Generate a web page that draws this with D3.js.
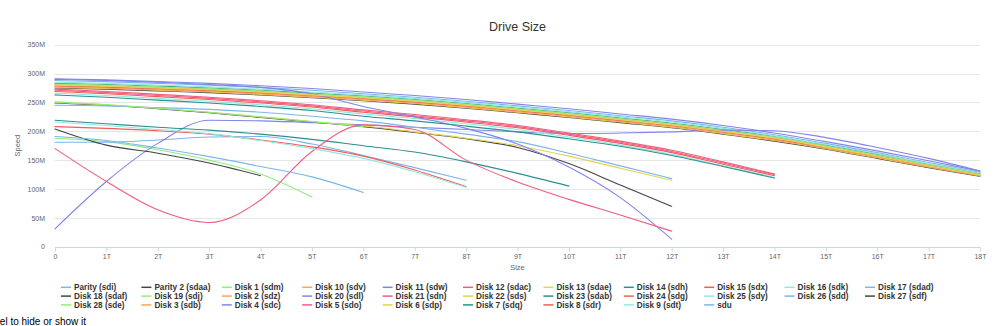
<!DOCTYPE html>
<html>
<head>
<meta charset="utf-8">
<script src="https://cdn.jsdelivr.net/npm/d3@7"></script>
<style>
  body { margin: 0; background: #fff; overflow: hidden; }
  svg { display: block; font-family: "Lucida Grande", "Liberation Sans", Arial, sans-serif; }
</style>
</head>
<body>
<svg id="chart"></svg>
<script>
// x positions (TB) and y ticks (MB/s)
const sizeTicks = [0, 1, 2, 3, 4, 5, 6, 7, 8, 9, 10, 11, 12, 13, 14, 15, 16, 17, 18];
const speedTicks = [0, 50, 100, 150, 200, 250, 300, 350];

// Highcharts default palette
const palette = ['#7cb5ec', '#434348', '#90ed7d', '#f7a35c', '#8085e9',
                 '#f15c80', '#e4d354', '#2b908f', '#f45b5b', '#91e8e1'];

// one array per drive: speed (M) at 0T, 1T, 2T, ...
const parity_sdi  = [288, 286, 283, 280, 276, 271, 265, 259, 252, 244, 236, 227, 218, 207, 194, 179, 163, 146, 129];
const parity2_sdaa = [275, 273, 270, 267, 263, 258, 253, 247, 240, 232, 224, 215, 206, 195, 183, 169, 153, 137, 122];
const disk1_sdm   = [188, 182, 168, 150, 126, 86];
const disk10_sdv  = [281, 279, 276, 273, 269, 264, 259, 253, 246, 238, 230, 221, 212, 201, 189, 174, 158, 141, 125];
const disk11_sdw  = [291, 289, 286, 283, 279, 274, 268, 262, 255, 247, 239, 230, 221, 210, 197, 182, 166, 149, 131];
const disk12_sdac = [271, 267, 262, 257, 251, 244, 235, 227, 218, 208, 195, 181, 165, 145, 125];
const disk13_sdae = [276, 274, 271, 268, 264, 259, 254, 248, 241, 233, 225, 216, 207, 196, 184, 170, 154, 138, 123];
const disk14_sdh  = [283, 281, 278, 275, 271, 266, 261, 255, 248, 240, 232, 223, 214, 203, 191, 176, 160, 143, 127];
const disk15_sdx  = [269, 265, 260, 255, 249, 242, 233, 225, 216, 206, 193, 179, 163, 143, 123];
const disk16_sdk  = [285, 283, 280, 277, 273, 268, 263, 257, 250, 242, 234, 225, 216, 205, 192, 177, 161, 144, 128];
const disk17_sdad = [181, 181, 185, 190, 191, 178, 158, 137, 115];
const disk18_sdaf = [249, 245, 239, 232, 224, 216, 208, 198, 187, 172, 144, 107, 70];
const disk19_sdj  = [282, 280, 277, 274, 270, 265, 260, 254, 247, 239, 231, 222, 213, 202, 190, 175, 159, 142, 126];
const disk2_sdz   = [279, 277, 274, 271, 267, 262, 257, 251, 244, 236, 228, 219, 210, 199, 187, 172, 157, 140, 124];
const disk20_sdl  = [31, 113, 179, 219, 218, 215, 211, 207, 203, 199, 196, 197, 199, 202, 201, 189, 172, 153, 131];
const disk21_sdn  = [273, 269, 264, 259, 253, 246, 237, 229, 220, 210, 197, 183, 167, 147, 126];
const disk22_sds  = [250, 246, 240, 233, 225, 217, 209, 199, 188, 175, 157, 136, 115];
const disk23_sdab = [219, 213, 207, 202, 195, 186, 175, 164, 147, 127, 105];
const disk24_sdg  = [278, 276, 273, 270, 266, 261, 256, 250, 243, 235, 227, 218, 209, 198, 186, 171, 156, 139, 123];
const disk25_sdy  = [266, 262, 257, 252, 246, 239, 230, 222, 213, 203, 190, 176, 160, 140, 120];
const disk26_sdd  = [245, 244, 241, 238, 233, 226, 218, 207, 195, 182, 162, 140, 118];
const disk27_sdf  = [204, 176, 162, 145, 123];
const disk28_sde  = [251, 246, 240, 233, 225, 217, 208];
const disk3_sdb   = [277, 275, 272, 269, 265, 260, 255, 249, 242, 234, 226, 217, 208, 197, 185, 171, 155, 138, 123];
const disk4_sdc   = [290, 288, 285, 281, 276, 265, 243, 225, 205, 178, 138, 85, 13];
const disk5_sdo   = [170, 113, 64, 42, 81, 165, 211, 203, 150, 112, 82, 55, 27];
const disk6_sdp   = [280, 278, 275, 272, 268, 263, 258, 252, 245, 237, 229, 220, 211, 200, 188, 173, 157, 140, 124];
const disk7_sdq   = [263, 259, 254, 249, 243, 236, 226, 218, 209, 199, 187, 174, 158, 139, 119];
const disk8_sdr   = [208, 205, 201, 195, 185, 173, 157, 133, 104];
const disk9_sdt   = [216, 210, 203, 196, 184, 170, 153, 130, 103];
const sdu         = [191, 184, 171, 156, 139, 121, 94];

const seriesNames = [
  'Parity (sdi)', 'Parity 2 (sdaa)', 'Disk 1 (sdm)', 'Disk 10 (sdv)', 'Disk 11 (sdw)', 'Disk 12 (sdac)',
  'Disk 13 (sdae)', 'Disk 14 (sdh)', 'Disk 15 (sdx)', 'Disk 16 (sdk)', 'Disk 17 (sdad)',
  'Disk 18 (sdaf)', 'Disk 19 (sdj)', 'Disk 2 (sdz)', 'Disk 20 (sdl)', 'Disk 21 (sdn)', 'Disk 22 (sds)',
  'Disk 23 (sdab)', 'Disk 24 (sdg)', 'Disk 25 (sdy)', 'Disk 26 (sdd)', 'Disk 27 (sdf)',
  'Disk 28 (sde)', 'Disk 3 (sdb)', 'Disk 4 (sdc)', 'Disk 5 (sdo)', 'Disk 6 (sdp)', 'Disk 7 (sdq)',
  'Disk 8 (sdr)', 'Disk 9 (sdt)', 'sdu'
];
const seriesValues = [
  parity_sdi, parity2_sdaa, disk1_sdm, disk10_sdv, disk11_sdw, disk12_sdac,
  disk13_sdae, disk14_sdh, disk15_sdx, disk16_sdk, disk17_sdad,
  disk18_sdaf, disk19_sdj, disk2_sdz, disk20_sdl, disk21_sdn, disk22_sds,
  disk23_sdab, disk24_sdg, disk25_sdy, disk26_sdd, disk27_sdf,
  disk28_sde, disk3_sdb, disk4_sdc, disk5_sdo, disk6_sdp, disk7_sdq,
  disk8_sdr, disk9_sdt, sdu
];

const width = 1000, height = 326;
const plot = { left: 55, right: 980, top: 44.7, bottom: 246.7 };

const svg = d3.select('#chart').attr('width', width).attr('height', height);

const x = d3.scaleLinear().domain([0, 18]).range([plot.left, plot.right]);
const y = d3.scaleLinear().domain([0, 350]).range([plot.bottom, plot.top]);

// Title
svg.append('text')
  .attr('x', (plot.left + plot.right) / 2)
  .attr('y', 31)
  .attr('text-anchor', 'middle')
  .attr('font-size', '12.5px')
  .attr('fill', '#333333')
  .text('Drive Size');

// Horizontal grid
svg.append('g')
  .selectAll('line')
  .data(speedTicks.filter(d => d > 0))
  .join('line')
  .attr('x1', plot.left)
  .attr('x2', plot.right)
  .attr('y1', d => Math.round(y(d)) + 0.5)
  .attr('y2', d => Math.round(y(d)) + 0.5)
  .attr('stroke', '#e6e6e6')
  .attr('stroke-width', 1);

// Y axis labels
const yAxis = d3.axisLeft(y)
  .tickValues(speedTicks)
  .tickSize(0)
  .tickPadding(10)
  .tickFormat(d => d === 0 ? '0' : d + 'M');
svg.append('g')
  .attr('transform', `translate(${plot.left},0)`)
  .call(yAxis)
  .call(g => g.select('.domain').remove())
  .call(g => g.selectAll('text')
    .attr('fill', '#666666')
    .attr('font-size', '7px')
    .attr('font-family', null));

svg.append('text')
  .attr('transform', `translate(20, ${(plot.top + plot.bottom) / 2}) rotate(-90)`)
  .attr('text-anchor', 'middle')
  .attr('font-size', '7.5px')
  .attr('fill', '#666666')
  .text('Speed');

// X axis
const xAxis = d3.axisBottom(x)
  .tickValues(sizeTicks)
  .tickSize(4)
  .tickPadding(3)
  .tickFormat(d => d === 0 ? '0' : d + 'T');
svg.append('g')
  .attr('transform', `translate(0,${Math.round(plot.bottom) + 0.5})`)
  .call(xAxis)
  .call(g => g.select('.domain').attr('stroke', '#ccd6eb').attr('d', `M${plot.left},0H${plot.right}`))
  .call(g => g.selectAll('.tick line').attr('stroke', '#ccd6eb'))
  .call(g => g.selectAll('text')
    .attr('fill', '#666666')
    .attr('font-size', '7px')
    .attr('font-family', null));

svg.append('text')
  .attr('x', (plot.left + plot.right) / 2)
  .attr('y', 270)
  .attr('text-anchor', 'middle')
  .attr('font-size', '7.5px')
  .attr('fill', '#666666')
  .text('Size');

// Lines
const line = d3.line()
  .x((d, i) => x(sizeTicks[i]))
  .y(d => y(d))
  .curve(d3.curveMonotoneX);

svg.append('g')
  .selectAll('path')
  .data(seriesValues)
  .join('path')
  .attr('d', d => line(d))
  .attr('fill', 'none')
  .attr('stroke', (d, i) => palette[i % palette.length])
  .attr('stroke-width', 1.1)
  .attr('stroke-linejoin', 'round')
  .attr('stroke-linecap', 'round');

// Legend
const legendX = 61, legendStep = 80.4, legendY = 287.3, legendRow = 8.8, perRow = 11;
const legend = svg.append('g');
seriesNames.forEach((name, i) => {
  const col = i % perRow;
  const row = Math.floor(i / perRow);
  const lx = legendX + col * legendStep;
  const ly = legendY + row * legendRow;
  legend.append('line')
    .attr('x1', lx).attr('x2', lx + 10)
    .attr('y1', ly).attr('y2', ly)
    .attr('stroke', palette[i % palette.length])
    .attr('stroke-width', 1.5);
  legend.append('text')
    .attr('x', lx + 13)
    .attr('y', ly + 2.8)
    .attr('font-size', '8.2px')
    .attr('font-weight', 'bold')
    .attr('fill', '#333333')
    .text(name);
});

// Hint line at the bottom of the page (runs off the left edge, as in the original)
svg.append('text')
  .attr('x', 86)
  .attr('y', 325)
  .attr('text-anchor', 'end')
  .attr('font-size', '10px')
  .attr('fill', '#000000')
  .style('font-family', 'Helvetica, "Liberation Sans", Arial, sans-serif')
  .text('Click on a label to hide or show it');
</script>
</body>
</html>
